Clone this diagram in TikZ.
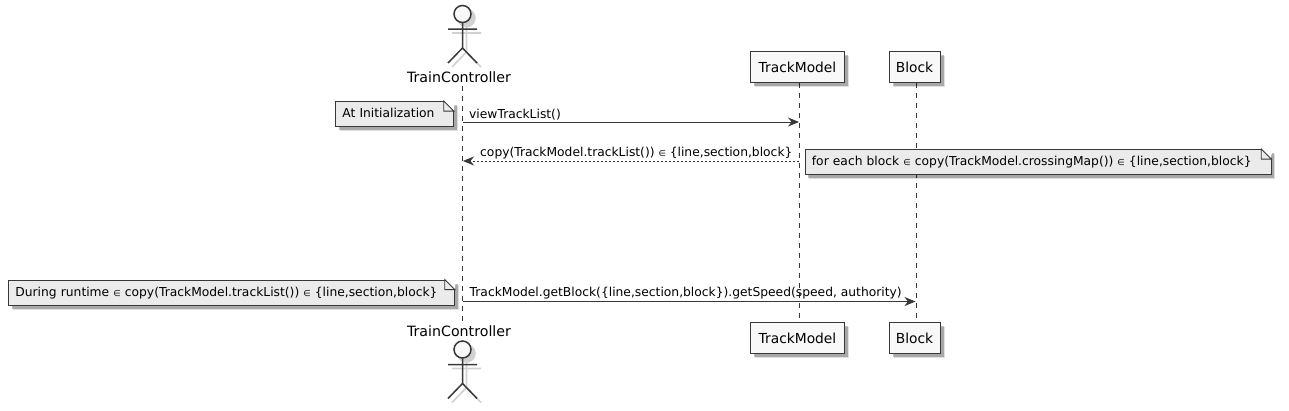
\documentclass[tikz,border=0pt]{standalone}
\usepackage{fontspec}
\setmainfont{DejaVu Sans}
\usetikzlibrary{shadows,arrows.meta,backgrounds}
\definecolor{umlline}{HTML}{383838}
\definecolor{umlbox}{HTML}{F8F8F8}
\definecolor{umlnote}{HTML}{EBEBEB}
\newcommand{\elemof}{{\fontsize{8.5}{10}\selectfont ∈}}
\tikzset{
  softshadow/.style={general shadow={shadow xshift=4.5pt,shadow yshift=-4.5pt,fill=black,opacity=.12},
                     general shadow={shadow xshift=3.5pt,shadow yshift=-3.5pt,fill=black,opacity=.25}},
  participant/.style={rectangle, draw=umlline, line width=1pt, fill=umlbox, softshadow, minimum height=31pt, font=\fontsize{13.8}{16}\selectfont},
  actorlabel/.style={inner sep=2pt, font=\fontsize{14.2}{16}\selectfont},
  notebox/.style={rectangle, draw=umlline, line width=.8pt, fill=umlnote, softshadow, anchor=west, align=left,
    text width=#1, inner xsep=7pt, inner ysep=0pt, minimum height=25pt, text height=10pt, text depth=3pt,
    font=\fontsize{12.3}{14}\selectfont},
  msglabel/.style={anchor=base west, inner sep=0pt, font=\fontsize{12.3}{14}\selectfont},
  lifeline/.style={draw=umlline, line width=.7pt, dash pattern=on 5pt off 5pt},
  msgarrow/.style={draw=umlline, line width=.9pt, -{Stealth[length=11pt, width=9pt, inset=3.5pt, umlline]}},
  msgreturn/.style={msgarrow, line width=.7pt, dash pattern=on 2pt off 2pt},
  actorman/.pic={
    \foreach \shft/\col/\wd in {4/black!18/1.6pt, 0/umlline/1.5pt}{
      \begin{scope}[xshift=\shft pt, yshift=-\shft pt]
        \ifnum\shft=0 \filldraw[draw=\col, fill=umlbox, line width=\wd] (0,14) circle (8.5);
        \else \filldraw[draw=\col, fill=\col, line width=\wd] (0,14) circle (8.5); \fi
        \draw[\col, line width=\wd] (0,23) -- (0,48) (-14.5,29) -- (14.5,29) (-14.5,63) -- (0,48) -- (14.5,63);
      \end{scope}
    }
  }
}
\begin{document}
\begin{tikzpicture}[x=1pt, y=-1pt]
    \useasboundingbox (0,0) rectangle (1289,410);

    % Actors
    \pic at (462.5,0) {actorman};
    \pic at (462.5,335.5) {actorman};
    \node[actorlabel] (tcTop) at (459,77.5) {TrainController};
    \node[actorlabel] (tcBottom) at (459,331) {TrainController};

    % Participants
    \node[participant, minimum width=94pt] (tmTop) at (797.5,67) {TrackModel};
    \node[participant, minimum width=51pt] (blTop) at (914.5,67) {Block};
    \node[participant, minimum width=94pt] (tmBottom) at (797.5,338) {TrackModel};
    \node[participant, minimum width=51pt] (blBottom) at (914.5,338) {Block};

    % Lifelines
    \begin{scope}[on background layer]
      \draw[lifeline] (462.5,86) -- (462.5,322);
      \draw[lifeline] (tmTop.south -| 799.5,0) -- (tmBottom.north -| 799.5,0);
      \draw[lifeline] (blTop.south -| 916,0) -- (blBottom.north -| 916,0);
    \end{scope}

    % Messages
    \coordinate (viewFrom) at (462.5,122);
    \coordinate (viewTo) at (799,122);
    \coordinate (copyFrom) at (799,161);
    \coordinate (copyTo) at (463,161);
    \coordinate (speedFrom) at (462.5,301.5);
    \coordinate (speedTo) at (915.5,301.5);
    \draw[msgarrow] (viewFrom) -- (viewTo);
    \draw[msgreturn] (copyFrom) -- (copyTo);
    \draw[msgarrow] (speedFrom) -- (speedTo);
    \node[msglabel] (viewText) at (469,118) {viewTrackList()};
    \node[msglabel] (copyText) at (480,156) {copy(TrackModel.trackList()) \elemof{} \{line,section,block\}};
    \node[msglabel] (speedText) at (469.5,296) {TrackModel.getBlock(\{line,section,block\}).getSpeed(speed, authority)};

    % Notes
    \node[notebox=104pt] (initNote) at (335,114) {At Initialization};
    \node[notebox=452pt] (eachNote) at (804.5,162) {for each block \elemof{} copy(TrackModel.crossingMap()) \elemof{} \{line,section,block\}};
    \node[notebox=432pt] (runNote) at (8,292.5) {During runtime \elemof{} copy(TrackModel.trackList()) \elemof{} \{line,section,block\}};

    % Folded corners
    \foreach \n in {initNote,eachNote,runNote}{
      \fill[white] ([xshift=-10pt]\n.north east) -- ([yshift=-10pt]\n.north east)
        -- ([xshift=1pt,yshift=1pt]\n.north east) -- ([xshift=-10pt,yshift=1pt]\n.north east) -- cycle;
      \draw[umlline, line width=.8pt] ([xshift=-10pt]\n.north east) -- ([yshift=-10pt]\n.north east)
        -- ([xshift=-10pt,yshift=-10pt]\n.north east) -- cycle;
    }
\end{tikzpicture}
\end{document}
